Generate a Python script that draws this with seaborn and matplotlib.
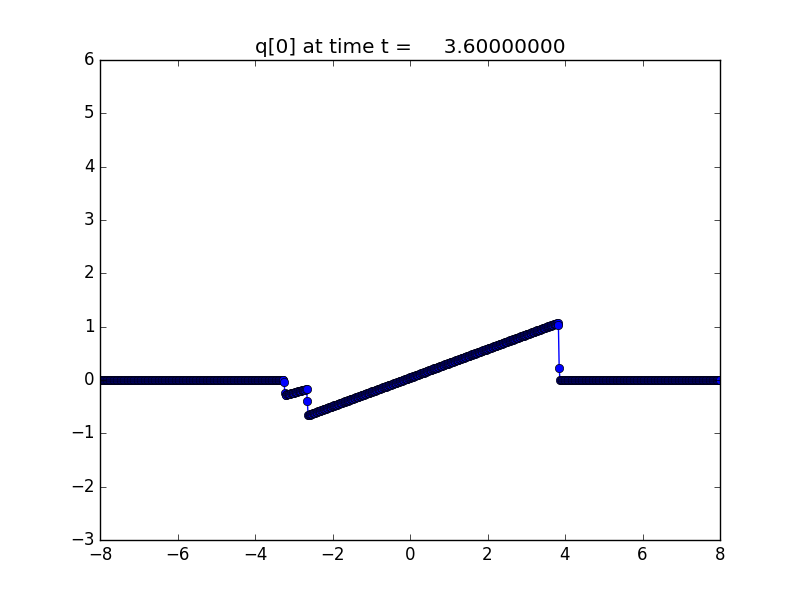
import numpy as np
import matplotlib
matplotlib.use("Agg")
import matplotlib.pyplot as plt
import seaborn as sns

# siatka komórek (środki) na [-8, 8]
n_cells = 800
x_lo, x_hi = -8.0, 8.0

# odcinki liniowe: (x_start, x_end, q_start, q_end)
seg_x_start = [-7.99, -3.21, -2.63, 3.87]
seg_x_end = [-3.27, -2.67, 3.81, 7.99]
seg_q_start = [0.0, -0.28, -0.66, 0.0]
seg_q_end = [0.0, -0.17, 1.07, 0.0]

# pojedyncze punkty na nieciągłościach
jump_x = [-3.25, -3.23, -2.65, 3.83, 3.85]
jump_q = [-0.03, -0.24, -0.39, 1.03, 0.22]

t_czas = 3.6

dx = (x_hi - x_lo) / n_cells
xc = x_lo + dx * (np.arange(n_cells) + 0.5)
q = np.zeros(n_cells)
for xs, xe, qs, qe in zip(seg_x_start, seg_x_end, seg_q_start, seg_q_end):
    m = (xc >= xs - 1e-9) & (xc <= xe + 1e-9)
    q[m] = np.interp(xc[m], [xs, xe], [qs, qe])
for xj, qj in zip(jump_x, jump_q):
    k = np.argmin(np.abs(xc - xj))
    q[k] = qj

plt.style.use("classic")
fig, ax = plt.subplots(figsize=(8, 6), dpi=100)
fig.patch.set_facecolor("white")

sns.lineplot(x=xc, y=q, ax=ax, sort=False, estimator=None,
             color="b", linewidth=1.0, marker="o", markersize=6,
             markerfacecolor="b", markeredgecolor="k", markeredgewidth=0.5)

ax.set_xlim(-8, 8)
ax.set_ylim(-3, 6)
ax.set_xticks(np.arange(-8, 9, 2))
ax.set_yticks(np.arange(-3, 7, 1))
ax.set_title("q[0] at time t = %14.8f" % t_czas)

plt.savefig("out.png", dpi=100, facecolor="white")
